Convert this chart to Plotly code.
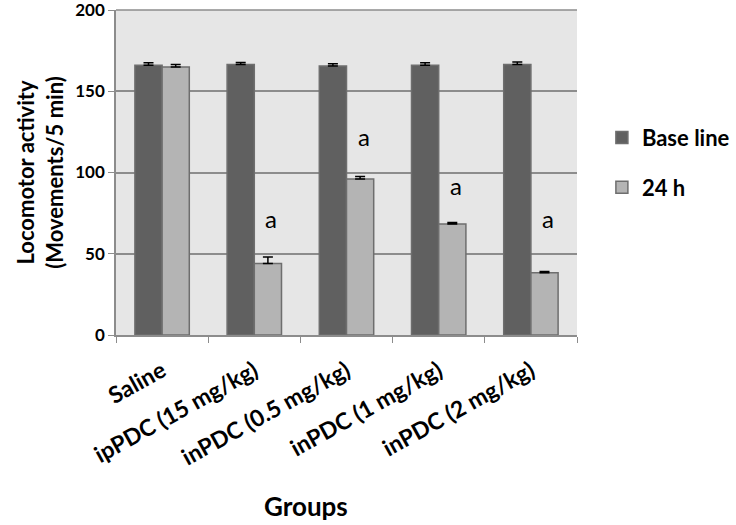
import plotly.graph_objects as go

# data
groups = ['Saline', 'ipPDC (15 mg/kg)', 'inPDC (0.5 mg/kg)', 'inPDC (1 mg/kg)', 'inPDC (2 mg/kg)']
baseline = [166, 166.5, 165.5, 166, 166.5]
baseline_err = [1.5, 1.2, 1.5, 1.5, 1.5]
h24 = [165, 44, 96, 68.3, 38.3]
h24_err = [1.5, 4, 1.5, 1, 0.8]
sig_labels = ['', 'a', 'a', 'a', 'a']
sig_y = [0, 71.5, 122, 92, 72]
y_ticks = [0, 50, 100, 150, 200]

FONT = 'Lato'

fig = go.Figure()

fig.add_trace(go.Bar(
    x=groups, y=baseline, name='Base line',
    marker=dict(color='#606060', line=dict(color='#6e6e6e', width=1.5)),
    error_y=dict(type='data', array=baseline_err, arrayminus=[0] * 5, symmetric=False,
                 color='black', thickness=1.5, width=5),
    legendgroup='a',
))
fig.add_trace(go.Bar(
    x=groups, y=h24, name='24 h',
    marker=dict(color='#b4b4b4', line=dict(color='#6e6e6e', width=1.5)),
    error_y=dict(type='data', array=h24_err, arrayminus=[0] * 5, symmetric=False,
                 color='black', thickness=1.5, width=5),
    legendgroup='b',
))

# significance letters above the 24 h bars
for g, lab, yv in zip(groups, sig_labels, sig_y):
    if lab:
        fig.add_annotation(x=g, y=yv, text=lab, showarrow=False, xshift=17,
                           font=dict(family=FONT, size=24, color='black'))

# x axis title sits left of centre in the original
fig.add_annotation(xref='paper', yref='paper', x=0.413, y=-0.527, text='<b>Groups</b>',
                   showarrow=False, xanchor='center', yanchor='middle',
                   font=dict(family=FONT, size=26, color='black'))

fig.update_layout(
    width=736, height=525,
    margin=dict(l=116, r=159, t=10, b=190, autoexpand=False),
    paper_bgcolor='white',
    plot_bgcolor='#e6e6e6',
    barmode='group',
    bargap=0.41,
    bargroupgap=0,
    font=dict(family=FONT, color='black'),
    legend=dict(x=1.054, y=0.53, xanchor='left', yanchor='middle',
                font=dict(family=FONT, size=22, color='black', weight='bold'),
                tracegroupgap=18, bgcolor='rgba(0,0,0,0)'),
)

fig.update_yaxes(
    range=[0, 200], tickvals=y_ticks, automargin=False, ticklabeloverflow='allow',
    showgrid=True, gridcolor='#8c8c8c', gridwidth=1.5,
    showline=True, linecolor='#8c8c8c', linewidth=1.5,
    ticks='outside', ticklen=6, tickcolor='#8c8c8c',
    tickfont=dict(family=FONT, size=17, color='black', weight='bold'),
    title=dict(text='Locomotor activity<br>(Movements/5 min)',
               font=dict(family=FONT, size=22, color='black', weight='bold'),
               standoff=6),
    zeroline=False,
)
fig.update_xaxes(
    automargin=False,
    showline=True, linecolor='#8c8c8c', linewidth=1.5, mirror=False,
    ticks='outside', tickson='boundaries', ticklen=6, tickcolor='#8c8c8c',
    tickangle=-29, ticklabelstandoff=12,
    tickfont=dict(family=FONT, size=23, color='black', weight='bold'),
)

# top border of the plot area
fig.add_shape(type='line', xref='paper', yref='paper', x0=0, x1=1, y0=1, y1=1,
              line=dict(color='#8c8c8c', width=1.5))

fig.write_html("out.html", config={'displayModeBar': False},
               post_script="document.body.style.margin='0';")
